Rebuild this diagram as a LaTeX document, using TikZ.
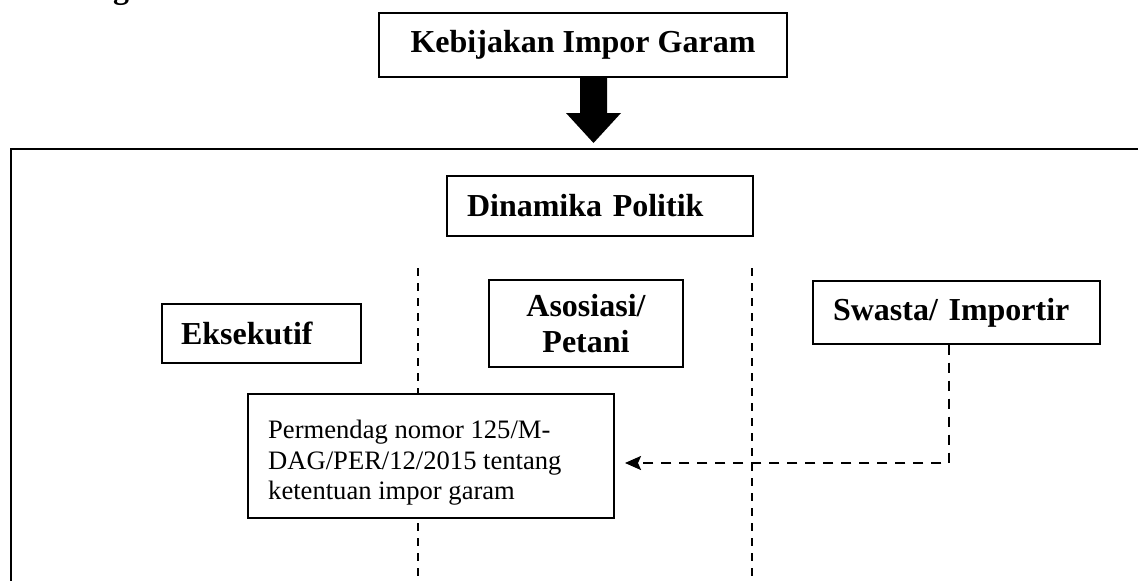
\documentclass[tikz,border=0pt]{standalone}
\usepackage{fontspec}
\setmainfont{Liberation Serif}
\usetikzlibrary{arrows.meta}
\tikzset{
  box/.style={draw=black, line width=1.3pt, fill=white, inner ysep=0pt, font=\fontsize{32}{36.8}\selectfont\bfseries},
  plainbox/.style={draw=black, line width=1.3pt, fill=white},
  sep/.style={draw=black, line width=1.4pt, dash pattern=on 8pt off 7pt},
  conn/.style={draw=black, line width=2pt, dash pattern=on 10pt off 8pt, -{Stealth[length=16pt,width=14pt,inset=3pt]}},
  frameline/.style={draw=black, line width=1.4pt}
}
\begin{document}
\begin{tikzpicture}[x=1pt,y=-1pt]
\useasboundingbox (0,0) rectangle (1138,581);
% fragment of a clipped heading
\node[anchor=base west, inner sep=0pt, font=\fontsize{32}{36}\selectfont\bfseries] (frag) at (113,-1.5) {g};
% top box
\node[box, minimum width=408pt, minimum height=64pt, align=center] (kb) at (583,45) {Kebijakan Impor Garam};
% block arrow
\coordinate (ar) at (593.5,77);
\fill[black] (ar) ++(-13.5,0) -- ++(27,0) -- ++(0,36) -- ++(14,0) -- ++(-27.5,30) -- ++(-27.5,-30) -- ++(14,0) -- cycle;
% frame
\coordinate (ftr) at (1140,149);
\coordinate (ftl) at (11,149);
\coordinate (fbl) at (11,583);
\draw[frameline] (ftr) -- (ftl) -- (fbl);
% dashed separators
\coordinate (s1t) at (418,268);
\coordinate (s1b) at (418,583);
\coordinate (s2t) at (752,268);
\coordinate (s2b) at (752,583);
\draw[sep] (s1t) -- (s1b);
\draw[sep] (s2t) -- (s2b);
% boxes
\node[box, minimum height=60pt, text width=266pt, inner xsep=20pt, align=left] (dp) at (600,206) {Dinamika Politik};
\node[box, minimum height=59pt, text width=161pt, inner xsep=19pt, align=left] (ek) at (261.5,333.5) {Eksekutif};
\node[box, minimum width=194pt, minimum height=87pt, align=center] (as) at (586,323.5) {Asosiasi/\\Petani};
\node[box, minimum height=63pt, text width=247pt, inner xsep=20pt, align=left] (sw) at (956.5,312.5) {Swasta/ Importir};
\node[plainbox, minimum width=366pt, minimum height=124pt, inner sep=0pt] (pm) at (431,456) {};
\node[anchor=north west, inner sep=0pt, align=left, font=\fontsize{26.6}{30.6}\selectfont] (pmt) at (268,420) {Permendag nomor 125/M-\\DAG/PER/12/2015 tentang\\ketentuan impor garam};
% connector
\coordinate (tip) at (625,463);
\draw[conn] ([xshift=-7.5pt]sw.south) |- (tip);
\end{tikzpicture}
\end{document}
